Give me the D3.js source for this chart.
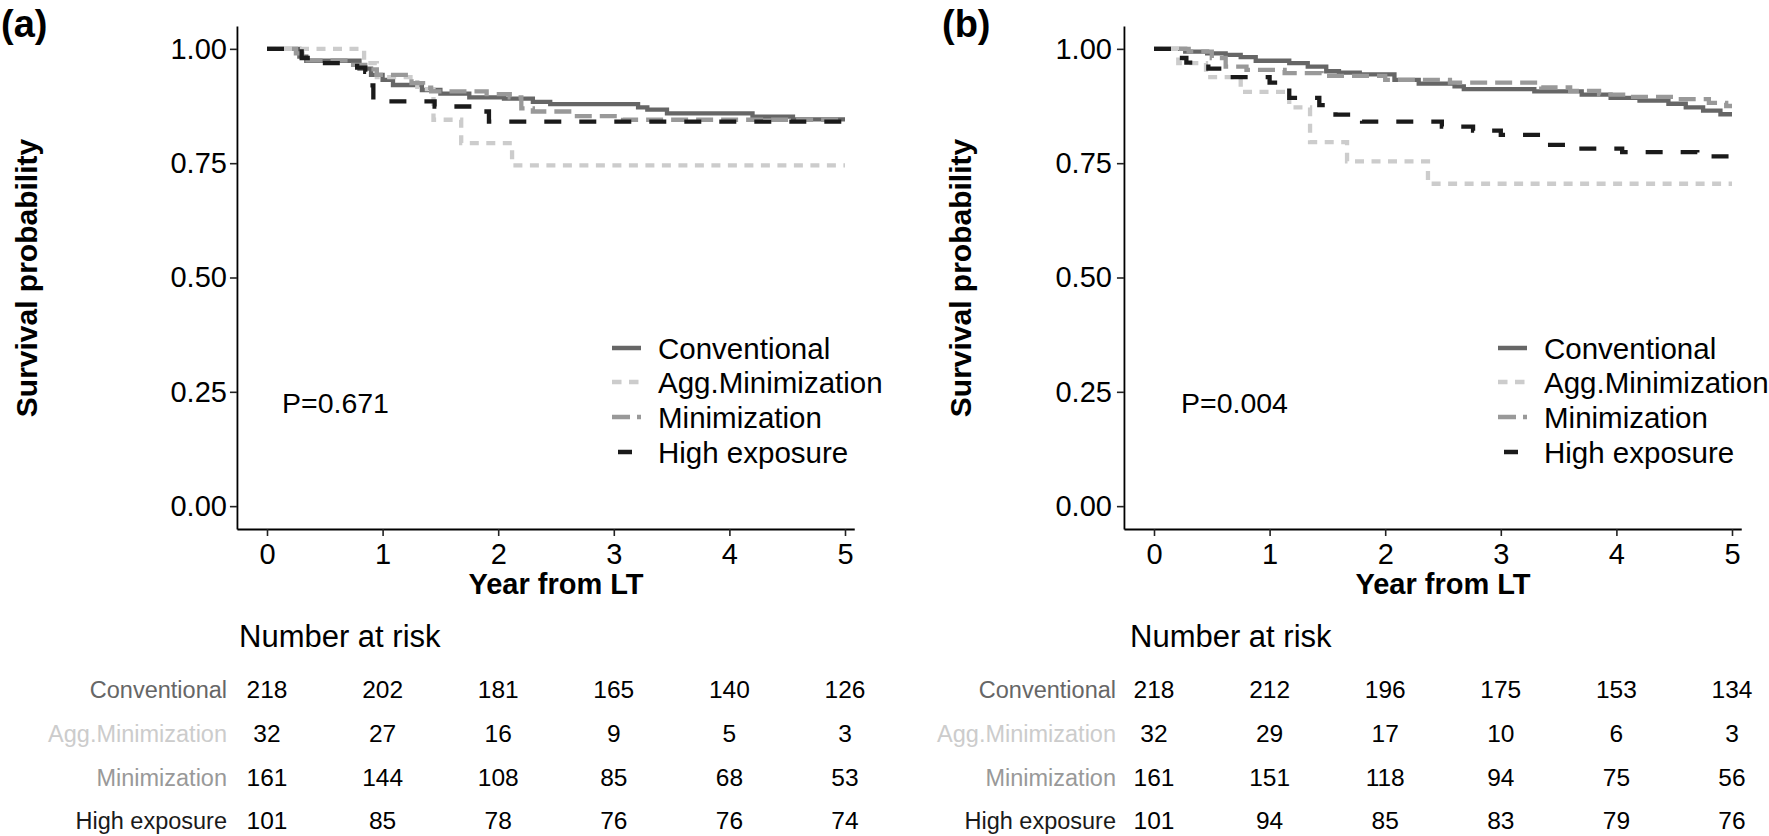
<!DOCTYPE html>
<html>
<head>
<meta charset="utf-8">
<script src="https://cdn.jsdelivr.net/npm/d3@7"></script>
<style>
  html, body { margin: 0; padding: 0; background: #fff; }
  svg { display: block; font-family: "Liberation Sans", Arial, Helvetica, sans-serif; }
</style>
</head>
<body>
<svg id="chart" width="1769" height="836"></svg>
<script>
const years = [0, 1, 2, 3, 4, 5];
const yTicks = [0, 0.25, 0.5, 0.75, 1];
const groups = ['Conventional', 'Agg.Minimization', 'Minimization', 'High exposure'];
const panelLabels = ['(a)', '(b)'];
const pValues = ['P=0.671', 'P=0.004'];

// survival steps, [year, probability]
const convA = [[0,1],[0.28,0.983],[0.34,0.974],[0.8,0.957],[0.9,0.943],[1.0,0.932],[1.09,0.921],[1.34,0.91],[1.5,0.902],[1.75,0.894],[2.05,0.891],[2.3,0.884],[2.45,0.879],[3.21,0.872],[3.29,0.867],[3.46,0.859],[4.2,0.852],[4.55,0.846],[5,0.846]];
const aggA = [[0,1],[0.84,0.969],[0.95,0.938],[1.3,0.912],[1.44,0.845],[1.68,0.794],[2.12,0.745],[5,0.745]];
const minA = [[0,1],[0.25,0.99],[0.35,0.975],[0.7,0.965],[0.85,0.955],[0.95,0.943],[1.25,0.925],[1.35,0.915],[1.42,0.907],[1.9,0.901],[2.1,0.894],[2.2,0.87],[2.3,0.863],[2.65,0.853],[3.08,0.845],[5,0.845]];
const highA = [[0,1],[0.3,0.98],[0.45,0.969],[0.78,0.959],[0.85,0.95],[0.88,0.92],[0.92,0.885],[1.45,0.874],[1.88,0.863],[1.92,0.841],[5,0.841]];

const convB = [[0,1],[0.27,0.994],[0.46,0.99],[0.62,0.987],[0.75,0.982],[0.88,0.974],[1.17,0.969],[1.33,0.961],[1.49,0.951],[1.6,0.948],[1.78,0.944],[2.08,0.932],[2.29,0.924],[2.6,0.918],[2.68,0.912],[3.29,0.907],[3.7,0.9],[3.95,0.893],[4.2,0.887],[4.45,0.88],[4.6,0.872],[4.75,0.865],[4.9,0.857],[5,0.857]];
const aggB = [[0,1],[0.21,0.969],[0.45,0.938],[0.75,0.906],[1.17,0.872],[1.35,0.796],[1.67,0.754],[2.37,0.705],[5,0.705]];
const minB = [[0,1],[0.3,0.994],[0.5,0.98],[0.62,0.961],[0.8,0.954],[1.13,0.947],[1.45,0.941],[2.0,0.932],[2.56,0.926],[3.35,0.916],[3.6,0.908],[3.85,0.9],[4.1,0.895],[4.5,0.89],[4.8,0.882],[4.95,0.875],[5,0.875]];
const highB = [[0,1],[0.2,0.98],[0.28,0.97],[0.47,0.957],[0.63,0.938],[1.0,0.926],[1.17,0.893],[1.43,0.877],[1.57,0.856],[1.8,0.841],[2.49,0.83],[2.76,0.821],[3.0,0.812],[3.34,0.79],[3.6,0.782],[4.05,0.774],[4.7,0.765],[5,0.765]];

// number at risk, one row per group
const riskA = [[218,202,181,165,140,126],[32,27,16,9,5,3],[161,144,108,85,68,53],[101,85,78,76,76,74]];
const riskB = [[218,212,196,175,153,134],[32,29,17,10,6,3],[161,151,118,94,75,56],[101,94,85,83,79,76]];

const colors = ['#666666', '#cccccc', '#999999', '#1a1a1a'];
const dashes = [null, '9,7.5', '17,8', '17,18'];
const legendDashes = [null, '9.5,7.5', '18,7', '0,6,14,40'];

const layouts = [
  { x0: 267, axisPad: 3, yTitle: 26, label: 1, p: 282, legX: 612, riskLbl: 227, nar: 239 },
  { x0: 1154, axisPad: 5, yTitle: 960, label: 942, p: 1181, legX: 1498, riskLbl: 1116, nar: 1130 }
];

const svg = d3.select('#chart');
const y = d3.scaleLinear().domain([-0.05, 1.05]).range([529, 26]);

function drawPanel(i, curves, risk) {
  const L = layouts[i];
  const x = d3.scaleLinear().domain([0, 5]).range([L.x0, L.x0 + 578]);
  const xAxisScale = x.copy().domain([-0.26, 5.08]).range([x(-0.26), x(5.08)]);
  const g = svg.append('g');

  // axes
  const ya = g.append('g').attr('transform', `translate(${x(-0.26)},0)`)
    .call(d3.axisLeft(y).tickValues(yTicks).tickFormat(d3.format('.2f'))
      .tickSize(7).tickSizeOuter(0).tickPadding(L.axisPad));
  const xa = g.append('g').attr('transform', `translate(0,${y(-0.05)})`)
    .call(d3.axisBottom(xAxisScale).tickValues(years).tickFormat(d3.format('d'))
      .tickSize(7).tickSizeOuter(0).tickPadding(7));
  [ya, xa].forEach(a => {
    a.select('.domain').attr('stroke', '#000').attr('stroke-width', 1.8);
    a.selectAll('.tick line').attr('stroke', '#222').attr('stroke-width', 1.6);
    a.selectAll('.tick text').attr('fill', '#000').style('font-size', '29px')
      .style('font-family', '"Liberation Sans", Arial, sans-serif');
  });

  // curves
  const line = d3.line().x(d => x(d[0])).y(d => y(d[1])).curve(d3.curveStepAfter);
  curves.forEach((c, k) => {
    g.append('path').datum(c).attr('d', line)
      .attr('fill', 'none')
      .attr('stroke', colors[k])
      .attr('stroke-width', 4.3)
      .attr('stroke-dasharray', dashes[k]);
  });

  // titles
  g.append('text').attr('transform', `translate(${L.yTitle},278) rotate(-90)`)
    .attr('text-anchor', 'middle').attr('dominant-baseline', 'central')
    .style('font-weight', 'bold').style('font-size', '30px').text('Survival probability');
  g.append('text').attr('x', x(2.5)).attr('y', 594).attr('text-anchor', 'middle')
    .style('font-weight', 'bold').style('font-size', '29px').text('Year from LT');
  g.append('text').attr('x', L.label).attr('y', 37)
    .style('font-weight', 'bold').style('font-size', '38px').text(panelLabels[i]);
  g.append('text').attr('x', L.p).attr('y', 403).attr('dominant-baseline', 'central')
    .style('font-size', '28.5px').text(pValues[i]);

  // legend
  const legRows = [348, 382, 417, 452];
  groups.forEach((name, k) => {
    g.append('line').attr('x1', L.legX).attr('x2', L.legX + 29)
      .attr('y1', legRows[k]).attr('y2', legRows[k])
      .attr('stroke', colors[k]).attr('stroke-width', 4.5)
      .attr('stroke-dasharray', legendDashes[k]);
    g.append('text').attr('x', L.legX + 46).attr('y', legRows[k])
      .attr('dominant-baseline', 'central').style('font-size', '29.5px').text(name);
  });

  // risk table
  g.append('text').attr('x', L.nar).attr('y', 647).style('font-size', '31px').text('Number at risk');
  const rowY = [698, 742, 786, 829];
  groups.forEach((name, k) => {
    g.append('text').attr('x', L.riskLbl).attr('y', rowY[k]).attr('text-anchor', 'end')
      .attr('fill', colors[k]).style('font-size', '23.5px').text(name);
    g.selectAll(null).data(risk[k]).enter().append('text')
      .attr('x', (d, j) => x(years[j])).attr('y', rowY[k])
      .attr('text-anchor', 'middle').style('font-size', '24.5px').text(d => d);
  });
}

drawPanel(0, [convA, aggA, minA, highA], riskA);
drawPanel(1, [convB, aggB, minB, highB], riskB);
</script>
</body>
</html>
